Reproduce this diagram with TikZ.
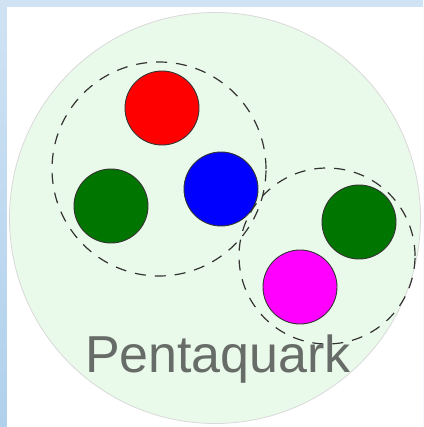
\documentclass[tikz,border=0pt]{standalone}
\usepackage{fontspec}
\setmainfont{Liberation Sans}
\usetikzlibrary{positioning}

\definecolor{frameblue}{RGB}{176,208,236}
\definecolor{bagfill}{RGB}{234,250,234}
\definecolor{quarkgreen}{RGB}{0,118,0}
\definecolor{quarkmagenta}{RGB}{255,0,255}
\definecolor{labelgray}{RGB}{104,108,104}

\begin{document}
\begin{tikzpicture}[
x=1pt, y=-1pt,
quark/.style={
circle,
draw=black!80,
line width=0.9pt,
minimum size=74pt,
inner sep=0pt
},
cluster/.style={
circle,
draw=black!80,
dash pattern=on 11pt off 9pt,
line width=1.2pt,
inner sep=0pt
}
]

% frame
\fill[top color=frameblue!60, bottom color=frameblue] (0,0) rectangle (423,427);
\fill[white] (7,7) rectangle (423,427);
\useasboundingbox (0,0) rectangle (423,427);

\node[circle, fill=bagfill, draw=black!15, line width=0.8pt,
minimum size=411pt, inner sep=0pt] (bag) at (215,218) {};

% quarks
\node[quark, fill=red] (red) at (162,108) {};
\node[quark, fill=quarkgreen] (greenA) at (111,206) {};
\node[quark, fill=blue] (blue) at (221,189) {};
\node[quark, fill=quarkgreen] (greenB) at (359,222) {};
\node[quark, fill=quarkmagenta] (magenta) at (300,287) {};

% clusters
\node[cluster, minimum size=214pt] (baryon) at (159,169) {};
\node[cluster, minimum size=176pt] (meson) at (327,256) {};

\node[text=labelgray, font=\fontsize{52}{52}\selectfont, anchor=base]
(label) at (218,372) {Pentaquark};

\end{tikzpicture}
\end{document}
